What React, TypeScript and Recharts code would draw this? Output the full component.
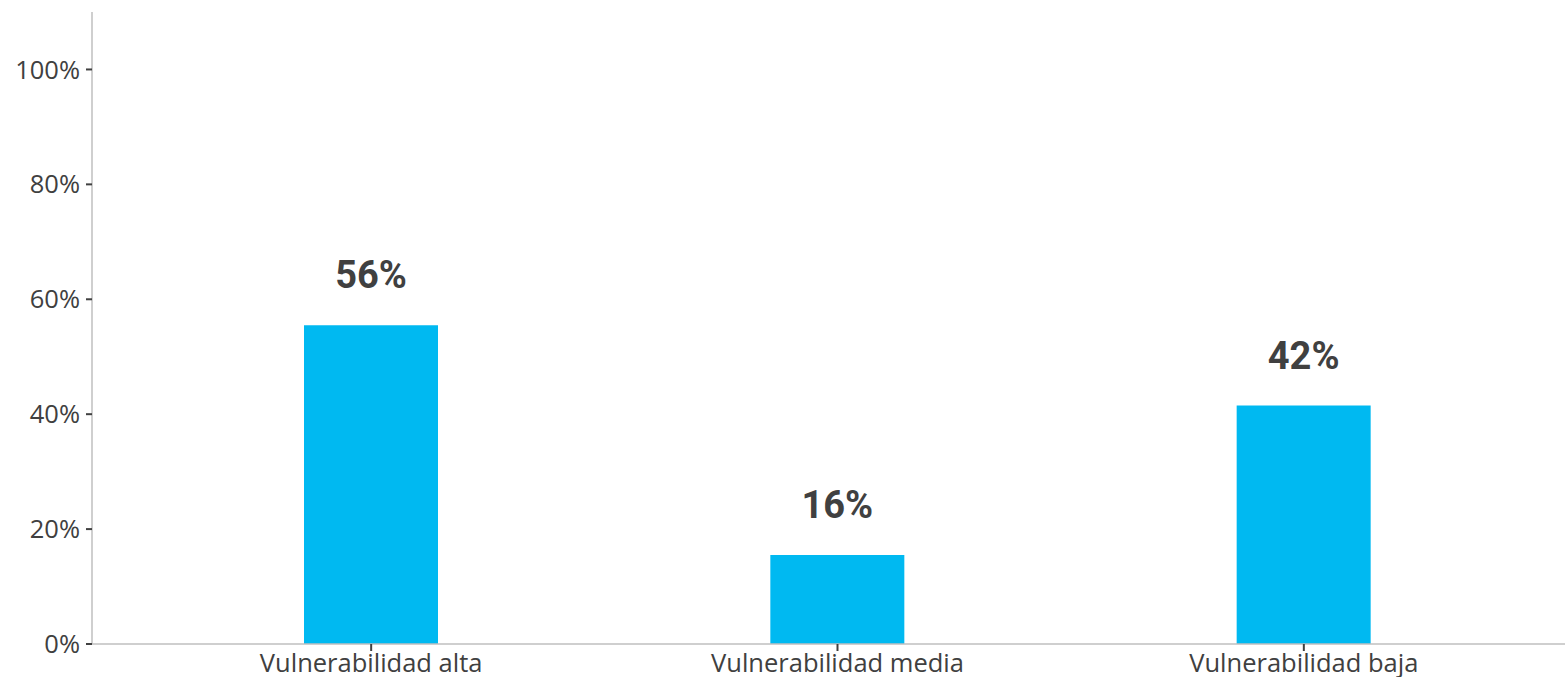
import { BarChart, Bar, XAxis, YAxis, LabelList } from 'recharts'

const categories = ['Vulnerabilidad alta', 'Vulnerabilidad media', 'Vulnerabilidad baja']
const shares = [0.555, 0.155, 0.415]
const shareLabels = ['56%', '16%', '42%']
const yTicks = [0, 0.2, 0.4, 0.6, 0.8, 1]

const data = categories.map((name, i) => ({ name, value: shares[i], label: shareLabels[i] }))

const tickFont = { fill: '#404040', fontSize: 25.5, fontFamily: '"Open Sans", sans-serif' }

const renderLabel = (props: any) => {
  const { x, y, width, value } = props
  return (
    <text
      x={x + width / 2}
      y={y - 37}
      textAnchor="middle"
      fill="#404040"
      fontSize={38}
      fontWeight="bold"
      fontFamily="Roboto, sans-serif"
    >
      {value}
    </text>
  )
}

export default function App() {
  return (
    <div style={{ position: 'absolute', left: 0, top: 0, background: '#fff' }}>
      <BarChart
        width={1567}
        height={677}
        data={data}
        margin={{ top: 12, right: 2, left: 0, bottom: 0 }}
      >
        <XAxis
          dataKey="name"
          height={33}
          padding={{ left: 46, right: 28 }}
          axisLine={{ stroke: '#bfbfbf', strokeWidth: 1.5 }}
          tickLine={{ stroke: '#404040', strokeWidth: 2 }}
          tickSize={7}
          tickMargin={3}
          tick={tickFont}
          interval={0}
        />
        <YAxis
          width={92}
          domain={[0, 1.1]}
          ticks={yTicks}
          tickFormatter={(v: number) => `${Math.round(v * 100)}%`}
          axisLine={{ stroke: '#bfbfbf', strokeWidth: 1.5 }}
          tickLine={{ stroke: '#404040', strokeWidth: 2 }}
          tickSize={6}
          tickMargin={6}
          tick={tickFont}
        />
        <Bar dataKey="value" fill="#00b9f1" barSize={134} isAnimationActive={false}>
          <LabelList dataKey="label" content={renderLabel} />
        </Bar>
      </BarChart>
    </div>
  )
}
